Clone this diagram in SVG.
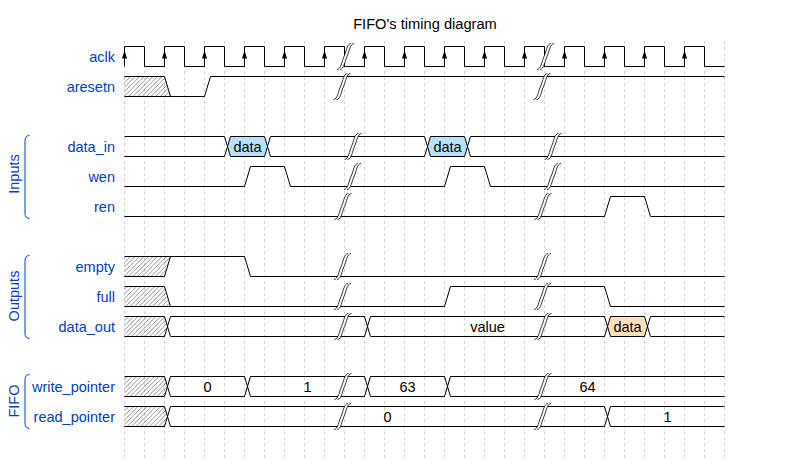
<svg xmlns="http://www.w3.org/2000/svg" xmlns:xlink="http://www.w3.org/1999/xlink" width="797" height="472" viewBox="0 0 797 472">
<style>
.bg{fill:#fff}
.grid{stroke:#d4d4d4;stroke-width:1;stroke-dasharray:3,3;fill:none}
.w{fill:none;stroke:#000;stroke-width:1}
.lbl{font-family:"Liberation Sans",Arial,Helvetica,sans-serif;font-size:14.5px;fill:#0041c4;text-anchor:end}
.grp{font-family:"Liberation Sans",Arial,Helvetica,sans-serif;font-size:14.5px;fill:#0041c4;text-anchor:middle}
.br{fill:none;stroke:#0041c4;stroke-width:1}
.t{font-family:"Liberation Sans",Arial,Helvetica,sans-serif;font-size:14.5px;fill:#000;text-anchor:middle}
.title{font-family:"Liberation Sans",Arial,Helvetica,sans-serif;font-size:14.67px;fill:#000;text-anchor:middle}
.hatch{fill:url(#hatch);stroke:none}
.s5{fill:#b9e0ff;stroke:none}
.s4{fill:#ffe0b9;stroke:none}
</style>
<defs>
<pattern id="hatch" patternUnits="userSpaceOnUse" width="4.5" height="4.5">
<path d="M-1,1 L1,-1 M0,4.5 L4.5,0 M3.5,5.5 L5.5,3.5" stroke="#444" stroke-width="0.6"/>
</pattern>
<g id="gap">
<path d="M-8.5,23 C-4.5,23 -3.5,14 -1.5,10 C0.5,6 1.5,-3 5.5,-3 L8.5,-3 C4.5,-3 3.5,6 1.5,10 C-0.5,14 -1.5,23 -5.5,23 Z" fill="#fff"/>
<path d="M-8.5,23 C-4.5,23 -3.5,14 -1.5,10 C0.5,6 1.5,-3 5.5,-3 M-5.5,23 C-1.5,23 -0.5,14 1.5,10 C3.5,6 4.5,-3 8.5,-3" fill="none" stroke="#000" stroke-width="0.8"/>
</g>
<path id="arr" d="M0,4 L2.5,12 L-2.5,12 Z" fill="#000"/>
</defs>
<rect class="bg" x="0" y="0" width="797" height="472"/>
<text class="title" x="425" y="29">FIFO's timing diagram</text>
<g id="grid">
<path class="grid" d="M124.5,41V458 M144.5,41V458 M164.5,41V458 M184.5,41V458 M204.5,41V458 M224.5,41V458 M244.5,41V458 M264.5,41V458 M284.5,41V458 M304.5,41V458 M324.5,41V458 M344.5,41V458 M364.5,41V458 M384.5,41V458 M404.5,41V458 M424.5,41V458 M444.5,41V458 M464.5,41V458 M484.5,41V458 M504.5,41V458 M524.5,41V458 M544.5,41V458 M564.5,41V458 M584.5,41V458 M604.5,41V458 M624.5,41V458 M644.5,41V458 M664.5,41V458 M684.5,41V458 M704.5,41V458 M724.5,41V458"/>
</g>
<g id="groups">
<g id="group-inputs">
<path class="br" d="M29.5,135.5 c-3,0 -4.5,2 -4.5,5 V213.5 c0,3 1.5,5 4.5,5"/>
<text class="grp" transform="translate(19,174) rotate(-90)">Inputs</text>
</g>
<g id="group-outputs">
<path class="br" d="M29.5,255.5 c-3,0 -4.5,2 -4.5,5 V333.5 c0,3 1.5,5 4.5,5"/>
<text class="grp" transform="translate(19,296) rotate(-90)">Outputs</text>
</g>
<g id="group-fifo">
<path class="br" d="M29.5,374.5 c-3,0 -4.5,2 -4.5,5 V423.5 c0,3 1.5,5 4.5,5"/>
<text class="grp" transform="translate(19,401) rotate(-90)">FIFO</text>
</g>
</g>
<g id="labels">
<text class="lbl" x="115" y="62">aclk</text>
<text class="lbl" x="115" y="92">aresetn</text>
<text class="lbl" x="115" y="152">data_in</text>
<text class="lbl" x="115" y="182">wen</text>
<text class="lbl" x="115" y="212">ren</text>
<text class="lbl" x="115" y="272">empty</text>
<text class="lbl" x="115" y="302">full</text>
<text class="lbl" x="115" y="332">data_out</text>
<text class="lbl" x="115" y="392">write_pointer</text>
<text class="lbl" x="115" y="422">read_pointer</text>
</g>
<g transform="translate(124.5,46.5)">
<g id="aclk">
<path class="w" d="M0,20 V0 H20 V20 H40 V0 H60 V20 H80 V0 H100 V20 H120 V0 H140 V20 H160 V0 H180 V20 H200 V0 H220 V20 H240 V0 H260 V20 H280 V0 H300 V20 H320 V0 H340 V20 H360 V0 H380 V20 H400 V0 H420 V20 H440 V0 H460 V20 H480 V0 H500 V20 H520 V0 H540 V20 H560 V0 H580 V20 H600"/>
<use href="#arr" x="0" y="0"/><use href="#arr" x="40" y="0"/><use href="#arr" x="80" y="0"/><use href="#arr" x="120" y="0"/><use href="#arr" x="160" y="0"/><use href="#arr" x="200" y="0"/><use href="#arr" x="240" y="0"/><use href="#arr" x="280" y="0"/><use href="#arr" x="320" y="0"/><use href="#arr" x="360" y="0"/><use href="#arr" x="400" y="0"/><use href="#arr" x="440" y="0"/><use href="#arr" x="480" y="0"/><use href="#arr" x="520" y="0"/><use href="#arr" x="560" y="0"/>
<use href="#gap" x="221" y="0"/><use href="#gap" x="421" y="0"/>
</g>
<g id="aresetn">
<path class="hatch" d="M0,30 H40 L46,50 H0 Z"/>
<path class="w" d="M0,30 H40 L46,50 H80 L86,30 H600 M0,50 H46"/>
<use href="#gap" x="217.5" y="30"/><use href="#gap" x="417.5" y="30"/>
</g>
<g id="data_in">
<path class="s5" d="M103,100 L106,90 H140 L143,100 L140,110 H106 Z M303,100 L306,90 H340 L343,100 L340,110 H306 Z"/>
<path class="w" d="M0,90 H100 L106,110 H140 L146,90 H300 L306,110 H340 L346,90 H600 M0,110 H100 L106,90 H140 L146,110 H300 L306,90 H340 L346,110 H600"/>
<text class="t" x="123" y="105.5">data</text>
<text class="t" x="323" y="105.5">data</text>
<use href="#gap" x="228.5" y="90"/><use href="#gap" x="428.5" y="90"/>
</g>
<g id="wen">
<path class="w" d="M0,140 H120 L126,120 H160 L166,140 H320 L326,120 H360 L366,140 H600"/>
<use href="#gap" x="228" y="120"/><use href="#gap" x="428" y="120"/>
</g>
<g id="ren">
<path class="w" d="M0,170 H480 L486,150 H520 L526,170 H600"/>
<use href="#gap" x="218.5" y="150"/><use href="#gap" x="418.5" y="150"/>
</g>
<g id="empty">
<path class="hatch" d="M0,210 H46 L40,230 H0 Z"/>
<path class="w" d="M0,230 H40 L46,210 H120 L126,230 H600 M0,210 H46"/>
<use href="#gap" x="218" y="210"/><use href="#gap" x="418" y="210"/>
</g>
<g id="full">
<path class="hatch" d="M0,240 H40 L46,260 H0 Z"/>
<path class="w" d="M0,240 H40 L46,260 H320 L326,240 H480 L486,260 H600 M0,260 H46"/>
<use href="#gap" x="218" y="240"/><use href="#gap" x="418" y="240"/>
</g>
<g id="data_out">
<path class="hatch" d="M0,270 H40 L43,280 L40,290 H0 Z"/>
<path class="s4" d="M483,280 L486,270 H520 L523,280 L520,290 H486 Z"/>
<path class="w" d="M0,270 H40 L46,290 H240 L246,270 H480 L486,290 H520 L526,270 H600 M0,290 H40 L46,270 H240 L246,290 H480 L486,270 H520 L526,290 H600"/>
<text class="t" x="363" y="285.5">value</text>
<text class="t" x="503" y="285.5">data</text>
<use href="#gap" x="218.5" y="270"/><use href="#gap" x="418.5" y="270"/>
</g>
<g id="write_pointer">
<path class="hatch" d="M0,330 H40 L43,340 L40,350 H0 Z"/>
<path class="w" d="M0,330 H40 L46,350 H120 L126,330 H240 L246,350 H320 L326,330 H600 M0,350 H40 L46,330 H120 L126,350 H240 L246,330 H320 L326,350 H600"/>
<text class="t" x="83" y="345.5">0</text>
<text class="t" x="183" y="345.5">1</text>
<text class="t" x="283" y="345.5">63</text>
<text class="t" x="463" y="345.5">64</text>
<use href="#gap" x="218.5" y="330"/><use href="#gap" x="418.5" y="330"/>
</g>
<g id="read_pointer">
<path class="hatch" d="M0,360 H40 L43,370 L40,380 H0 Z"/>
<path class="w" d="M0,360 H40 L46,380 H480 L486,360 H600 M0,380 H40 L46,360 H480 L486,380 H600"/>
<text class="t" x="263" y="375.5">0</text>
<text class="t" x="543" y="375.5">1</text>
<use href="#gap" x="218" y="360"/><use href="#gap" x="418" y="360"/>
</g>
</g>
</svg>
